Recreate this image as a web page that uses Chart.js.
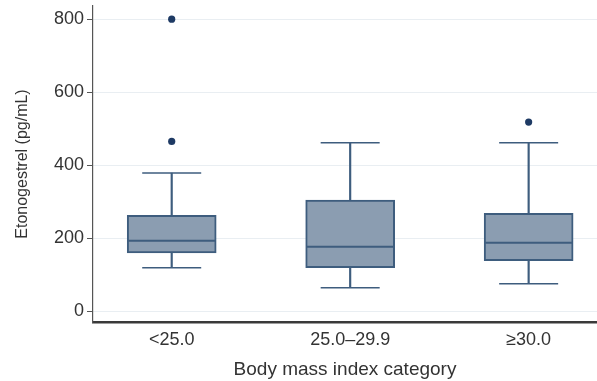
<!DOCTYPE html>
<html>
<head>
<meta charset="utf-8">
<script src="https://cdn.jsdelivr.net/npm/chart.js@4"></script>
<style>
  body { margin: 0; background: #fff; }
  #wrap { width: 597px; height: 381px; position: relative; }
</style>
</head>
<body>
<div id="wrap"><canvas id="chart"></canvas></div>
<script>
// box plot values (pg/mL)
const categories = ['<25.0', '25.0–29.9', '≥30.0'];
const whiskerLow = [119, 64, 75];
const q1 = [159, 119, 138];
const median = [193, 176, 187];
const q3 = [262, 304, 268];
const whiskerHigh = [378, 461, 461];
const outliers = [[800, 465], [], [518]];
const yTicks = [0, 200, 400, 600, 800];

const boxFill = '#8b9db1';
const boxLine = '#3e5d7e';
const dotColor = '#1e3a64';
const textColor = '#333333';

const xPos = categories.map((c, i) => i + 1);

const boxes = xPos.map((x, i) => ({ x: x, y: [q1[i], q3[i]] }));
const whiskers = xPos.map((x, i) => ({ x: x, y: [whiskerLow[i], whiskerHigh[i]] }));
const caps = [];
xPos.forEach((x, i) => {
    caps.push({ x: x, y: whiskerLow[i] });
    caps.push({ x: x, y: whiskerHigh[i] });
});
const medians = xPos.map((x, i) => ({ x: x, y: median[i] }));
const dots = [];
outliers.forEach((list, i) => list.forEach(v => dots.push({ x: xPos[i], y: v })));

// no extra room for tick labels, the plot area is fixed by hand
function noPadding(s) {
    s.paddingLeft = 0;
    s.paddingRight = 0;
    s.paddingTop = 0;
    s.paddingBottom = 0;
}

const ctx = document.getElementById('chart').getContext('2d');
new Chart(ctx, {
    type: 'bar',
    data: {
        datasets: [
            {
                label: 'whiskers',
                data: whiskers,
                backgroundColor: boxLine,
                borderWidth: 0,
                barThickness: 1.5,
                grouped: false,
                order: 4
            },
            {
                label: 'box',
                data: boxes,
                backgroundColor: boxFill,
                borderColor: boxLine,
                borderWidth: 2,
                borderSkipped: false,
                barThickness: 89,
                grouped: false,
                order: 3
            },
            {
                type: 'scatter',
                label: 'caps',
                data: caps,
                pointStyle: 'line',
                pointRadius: 29.5,
                pointBorderWidth: 1.5,
                pointBorderColor: boxLine,
                order: 2
            },
            {
                type: 'scatter',
                label: 'median',
                data: medians,
                pointStyle: 'line',
                pointRadius: 43.5,
                pointBorderWidth: 2,
                pointBorderColor: boxLine,
                order: 1
            },
            {
                type: 'scatter',
                label: 'outliers',
                data: dots,
                pointStyle: 'circle',
                pointRadius: 3.6,
                pointBorderWidth: 0,
                pointBackgroundColor: dotColor,
                order: 0
            }
        ]
    },
    options: {
        responsive: true,
        maintainAspectRatio: false,
        animation: false,
        layout: { autoPadding: false, padding: { top: 6, right: 0, left: 0, bottom: 0 } },
        plugins: {
            legend: { display: false },
            tooltip: { enabled: false }
        },
        scales: {
            x: {
                type: 'linear',
                offset: false,
                min: 0.559,
                max: 3.383,
                afterFit: s => { s.height = 59; noPadding(s); },
                afterBuildTicks: s => { s.ticks = xPos.map(v => ({ value: v })); },
                grid: { display: false, drawTicks: false },
                border: { display: true, color: '#3a3a3a', width: 2.5 },
                ticks: {
                    autoSkip: false,
                    maxRotation: 0,
                    padding: 7,
                    color: textColor,
                    font: { family: '"Liberation Sans", Arial, sans-serif', size: 18 },
                    callback: v => categories[v - 1]
                },
                title: {
                    display: true,
                    text: 'Body mass index category',
                    color: textColor,
                    padding: { top: 0, bottom: 0 },
                    font: { family: '"Liberation Sans", Arial, sans-serif', size: 19 }
                }
            },
            y: {
                min: -30,
                max: 836,
                afterFit: s => { s.width = 93; noPadding(s); },
                afterBuildTicks: s => { s.ticks = yTicks.map(v => ({ value: v })); },
                grid: {
                    color: '#e9eef2',
                    lineWidth: 1,
                    tickLength: 6,
                    tickColor: '#555555'
                },
                border: { display: true, color: '#555555', width: 1.2 },
                ticks: {
                    padding: 3,
                    color: textColor,
                    font: { family: '"Liberation Sans", Arial, sans-serif', size: 18 }
                },
                title: {
                    display: true,
                    text: 'Etonogestrel (pg/mL)',
                    color: textColor,
                    padding: { top: 13, bottom: 0 },
                    font: { family: '"Liberation Sans", Arial, sans-serif', size: 16 }
                }
            }
        }
    }
});
</script>
</body>
</html>
